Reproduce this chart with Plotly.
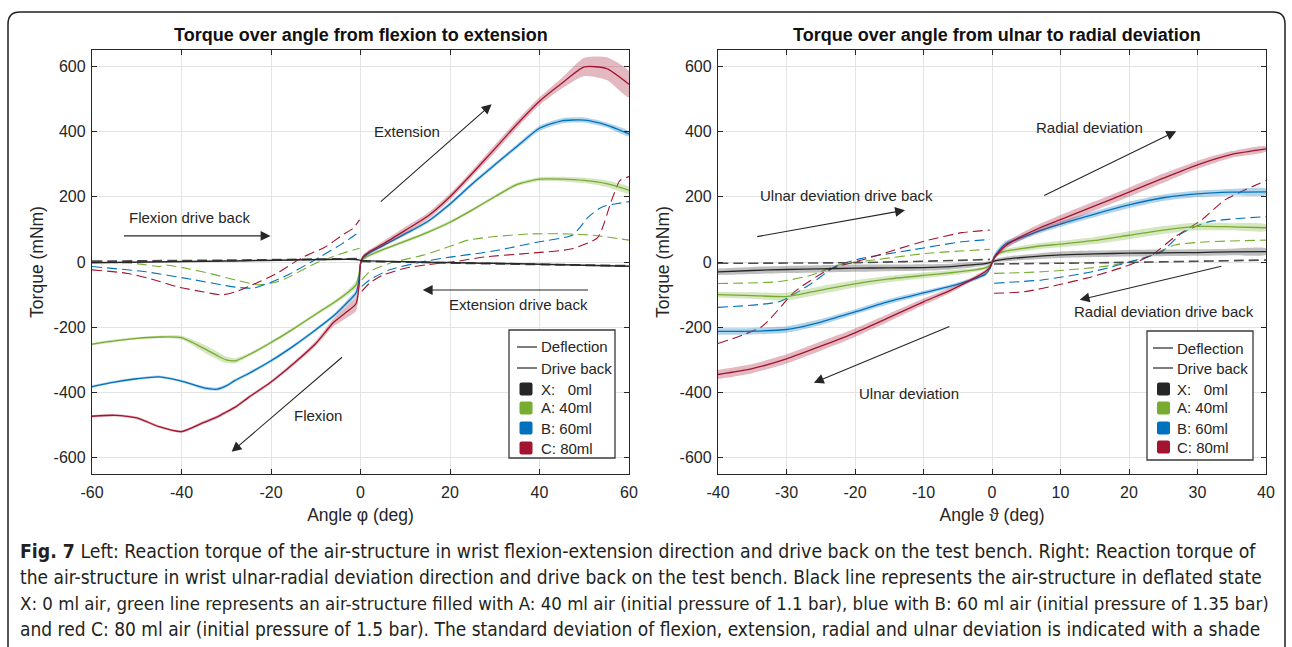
import plotly.graph_objects as go

W, H = 1292, 647

# ---------------- LEFT PANEL: flexion / extension ----------------
FE_ANGLE = [-60, -55, -50, -45, -40, -35, -32, -30, -28, -25, -20, -15, -10, -6, -3, -1, -0.3, 0,
            0.5, 2, 5, 10, 15, 20, 25, 30, 35, 40, 45, 50, 55, 60]
FE_A = [-252, -242, -234, -230, -232, -265, -287, -300, -303, -285, -247, -205, -160, -125, -95, -70, -35, -5,
        8, 20, 38, 64, 91, 122, 160, 200, 238, 254, 254, 250, 240, 220]
FE_B = [-382, -368, -358, -352, -365, -386, -390, -380, -363, -342, -303, -258, -208, -165, -125, -95, -50, -5,
        12, 28, 50, 86, 124, 178, 240, 298, 355, 410, 433, 435, 420, 393]
FE_C = [-473, -470, -478, -505, -520, -492, -475, -460, -445, -415, -368, -312, -250, -185, -152, -128, -70, -5,
        15, 32, 55, 97, 140, 200, 272, 347, 423, 493, 548, 598, 593, 545]
FE_A_SD = [4, 4, 4, 4, 6, 12, 12, 10, 8, 5, 5, 5, 5, 6, 8, 12, 10, 5,
           5, 5, 5, 5, 5, 5, 5, 5, 6, 6, 7, 8, 10, 10]
FE_B_SD = [4, 4, 4, 4, 4, 5, 5, 5, 5, 5, 5, 5, 5, 6, 8, 10, 10, 5,
           5, 5, 5, 5, 5, 6, 6, 6, 7, 8, 8, 8, 8, 8]
FE_C_SD = [4, 4, 4, 4, 4, 5, 5, 5, 5, 5, 5, 6, 8, 12, 18, 22, 20, 8,
           6, 6, 8, 10, 10, 10, 10, 12, 12, 12, 16, 28, 35, 40]
FE_X_ANGLE = [-60, -30, -1, 0, 30, 60]
FE_X = [-2, 3, 8, 5, -4, -13]

# drive back, flexion side
FLX_A_ANG = [-60, -50, -45, -43.5, -38, -33.7, -28, -22.6, -19, -16.6, -10, -4, -0.2]
FLX_A = [1, -5, -14, -9, -22, -35, -55, -70, -62, -50, -4, 27, 42]
FLX_B_ANG = [-60, -48, -37, -28, -24, -20, -16, -9, -4, -0.2]
FLX_B = [-14, -30, -55, -77, -80, -62, -38, 16, 57, 93]
FLX_C_ANG = [-60, -52, -46, -41, -35, -31, -28, -25, -19, -13, -8, -4, -1.7, -0.2]
FLX_C = [-24, -35, -55, -76, -92, -101, -92, -75, -37, 14, 45, 83, 103, 129]
FLX_X_ANG = [-60, -30, 0]
FLX_X = [2, 5, 10]
# drive back, extension side
EXT_A_ANG = [0.3, 2, 6.5, 14, 20, 24, 30, 38, 47, 52, 60]
EXT_A = [-55, -30, -4, 21, 48, 67, 78, 86, 86, 82, 67]
EXT_B_ANG = [0.3, 2, 6.5, 14, 20, 26.6, 31, 40, 47.4, 51, 54, 60]
EXT_B = [-75, -55, -24, 1, 15, 27, 37, 62, 83, 139, 169, 185]
EXT_C_ANG = [0.3, 2, 5, 10, 15, 21, 28, 38, 47, 53, 56, 58, 60]
EXT_C = [-90, -65, -40, -19, -8, 1, 16, 27, 40, 75, 185, 250, 262]
EXT_X_ANG = [0, 30, 60]
EXT_X = [2, -5, -12]

# ---------------- RIGHT PANEL: ulnar / radial ----------------
RU_ANGLE = [-40, -35, -30, -25, -20, -15, -10, -6, -3, -1, -0.3, 0, 0.3, 1, 2, 4, 7, 10, 15, 20, 25, 30, 35, 40]
RU_C = [-345, -327, -297, -258, -217, -170, -122, -86, -54, -30, -16, -3, 12, 30, 50, 75, 105, 130, 172, 214, 257, 298, 330, 347]
RU_B = [-213, -212, -207, -184, -153, -121, -95, -74, -55, -38, -20, -3, 15, 35, 55, 72, 96, 116, 147, 175, 197, 209, 214, 215]
RU_A = [-100, -103, -106, -86, -67, -52, -41, -33, -26, -18, -10, 0, 12, 26, 33, 40, 49, 55, 66, 82, 98, 109, 108, 105]
RU_X = [-30, -26, -23, -21, -19, -18, -17, -14, -9, -5, -2, 0, 3, 6, 9, 13, 18, 22, 25, 27, 28, 29, 31, 32]
RU_C_SD = [14, 14, 14, 14, 13, 12, 10, 8, 6, 6, 6, 6, 6, 8, 10, 10, 12, 14, 14, 14, 14, 12, 10, 8]
RU_B_SD = [10, 10, 10, 9, 8, 8, 7, 6, 6, 6, 6, 6, 8, 10, 10, 8, 8, 8, 9, 10, 10, 10, 10, 10]
RU_A_SD = [9, 10, 12, 12, 11, 10, 9, 8, 6, 5, 5, 5, 5, 6, 7, 8, 9, 10, 11, 12, 12, 12, 11, 10]
RU_X_SD = [10, 11, 11, 11, 11, 10, 10, 9, 8, 6, 5, 5, 5, 6, 7, 8, 9, 10, 10, 10, 10, 10, 10, 10]

# drive back, ulnar side
UL_A_ANG = [-40, -31, -26.3, -22.4, -16.6, -9.3, -0.3]
UL_A = [-66, -60, -40, -9, 8, 27, 39]
UL_B_ANG = [-40, -31, -26.3, -22.9, -19, -11.7, -4.4, -0.3]
UL_B = [-139, -121, -65, -14, 11, 37, 62, 69]
UL_C_ANG = [-40, -33.6, -28.8, -23.9, -19, -14.2, -9.3, -4.4, -0.3]
UL_C = [-250, -198, -91, -24, 6, 37, 67, 90, 98]
UL_X_ANG = [-40, -20, -5, -0.3]
UL_X = [-4, -2, 5, 8]
# drive back, radial side
RA_A_ANG = [0.3, 7.3, 17, 22.8, 26.7, 31.6, 40]
RA_A = [-35, -30, -12, 16, 52, 62, 67]
RA_B_ANG = [0.3, 7.3, 14.6, 21.9, 24.8, 27.7, 31.6, 40]
RA_B = [-65, -55, -30, 11, 32, 88, 123, 139]
RA_C_ANG = [0.3, 4.8, 9.7, 14.6, 19.4, 23.3, 26.7, 30.6, 34, 40]
RA_C = [-96, -91, -70, -45, -14, 21, 77, 129, 190, 250]
RA_X_ANG = [0.3, 17, 40]
RA_X = [-6, -2, 6]

FE_XTICKS = [-60, -40, -20, 0, 20, 40, 60]
FE_XTICKTEXT = ["-60", "-40", "-20", "0", "20", "40", "60"]
RU_XTICKS = [-40, -30, -20, -10, 0, 10, 20, 30, 40]
RU_XTICKTEXT = ["-40", "-30", "-20", "-10", "0", "10", "20", "30", "40"]
YTICKS = [-600, -400, -200, 0, 200, 400, 600]
YTICKTEXT = ["-600", "-400", "-200", "0", "200", "400", "600"]

LEGEND_LINES = ["Deflection", "Drive back"]
LEGEND_KEYS = ["X", "A", "B", "C"]
LEGEND_NAMES = ["X:\u00a0\u00a0\u00a00ml", "A: 40ml", "B: 60ml", "C: 80ml"]

COL = {"X": "#262626", "A": "#77AC30", "B": "#0072BD", "C": "#A2142F"}
FILL = {"X": "rgba(70,70,70,0.35)", "A": "rgba(119,172,48,0.3)",
        "B": "rgba(0,114,189,0.3)", "C": "rgba(162,20,47,0.3)"}
DASHCOL = {"X": "#4d4d4d", "A": "#77AC30", "B": "#0072BD", "C": "#A2142F"}

fig = go.Figure()


def band(x, y, sd, key, xa, ya):
    up = [a + b for a, b in zip(y, sd)]
    lo = [a - b for a, b in zip(y, sd)]
    fig.add_trace(go.Scatter(x=list(x) + list(x)[::-1], y=up + lo[::-1], fill="toself",
                             fillcolor=FILL[key], line=dict(width=0, shape="spline", smoothing=0.6),
                             mode="lines", hoverinfo="skip", showlegend=False, xaxis=xa, yaxis=ya))


def line(x, y, key, xa, ya, dash=None, width=1.3):
    fig.add_trace(go.Scatter(x=x, y=y, mode="lines",
                             line=dict(color=DASHCOL[key] if dash else COL[key], width=width,
                                       dash=dash or "solid", shape="spline", smoothing=0.6),
                             showlegend=False, xaxis=xa, yaxis=ya))


DASH = "10px,5px"

# left panel
for key, ax, ay in [("A", FLX_A_ANG, FLX_A), ("B", FLX_B_ANG, FLX_B), ("C", FLX_C_ANG, FLX_C),
                    ("A", EXT_A_ANG, EXT_A), ("B", EXT_B_ANG, EXT_B), ("C", EXT_C_ANG, EXT_C)]:
    line(ax, ay, key, "x", "y", dash=DASH, width=1.1)
line(FLX_X_ANG, FLX_X, "X", "x", "y", dash=DASH, width=2)
line(EXT_X_ANG, EXT_X, "X", "x", "y", dash=DASH, width=2)
for key, yv, sd in [("A", FE_A, FE_A_SD), ("B", FE_B, FE_B_SD), ("C", FE_C, FE_C_SD)]:
    band(FE_ANGLE, yv, sd, key, "x", "y")
    line(FE_ANGLE, yv, key, "x", "y")
line(FE_X_ANGLE, FE_X, "X", "x", "y", width=1.5)

# right panel
for key, ax, ay in [("A", UL_A_ANG, UL_A), ("B", UL_B_ANG, UL_B), ("C", UL_C_ANG, UL_C),
                    ("A", RA_A_ANG, RA_A), ("B", RA_B_ANG, RA_B), ("C", RA_C_ANG, RA_C)]:
    line(ax, ay, key, "x2", "y2", dash=DASH, width=1.1)
line(UL_X_ANG, UL_X, "X", "x2", "y2", dash=DASH, width=1.6)
line(RA_X_ANG, RA_X, "X", "x2", "y2", dash=DASH, width=1.6)
for key, yv, sd in [("X", RU_X, RU_X_SD), ("A", RU_A, RU_A_SD), ("B", RU_B, RU_B_SD), ("C", RU_C, RU_C_SD)]:
    band(RU_ANGLE, yv, sd, key, "x2", "y2")
    line(RU_ANGLE, yv, key, "x2", "y2")

FONT = "Liberation Sans, Arial, Helvetica, sans-serif"
TXT = "#262626"

axis_common = dict(showline=True, linecolor="#262626", linewidth=1.3, mirror="ticks", ticks="inside",
                   ticklen=5, tickcolor="#262626", showgrid=True, gridcolor="#e3e3e3", gridwidth=1,
                   zeroline=False, automargin=False, tickfont=dict(family=FONT, size=16, color=TXT))

fig.update_layout(
    width=W, height=H, margin=dict(l=0, r=0, t=0, b=0, autoexpand=False),
    paper_bgcolor="white", plot_bgcolor="white",
    font=dict(family=FONT, color=TXT), showlegend=False,
    xaxis=dict(domain=[92 / W, 629 / W], range=[-60, 60], tickvals=FE_XTICKS, ticktext=FE_XTICKTEXT,
               anchor="y", ticklabelstandoff=4,
               title=dict(text="Angle \u03c6 (deg)", font=dict(size=17.5, family=FONT, color=TXT), standoff=8),
               **axis_common),
    yaxis=dict(domain=[1 - 474 / H, 1 - 50 / H], range=[-650, 650], tickvals=YTICKS, ticktext=YTICKTEXT,
               anchor="x", ticklabelstandoff=2,
               title=dict(text="Torque (mNm)", font=dict(size=17.5, family=FONT, color=TXT), standoff=5),
               **axis_common),
    xaxis2=dict(domain=[718 / W, 1266 / W], range=[-40, 40], tickvals=RU_XTICKS, ticktext=RU_XTICKTEXT,
                anchor="y2", ticklabelstandoff=4,
                title=dict(text="Angle \u03d1 (deg)", font=dict(size=17.5, family=FONT, color=TXT), standoff=8),
                **axis_common),
    yaxis2=dict(domain=[1 - 474 / H, 1 - 50 / H], range=[-650, 650], tickvals=YTICKS, ticktext=YTICKTEXT,
                anchor="x2", ticklabelstandoff=2,
                title=dict(text="Torque (mNm)", font=dict(size=17.5, family=FONT, color=TXT), standoff=5),
                **axis_common),
)

# titles
fig.add_annotation(text="<b>Torque over angle from flexion to extension</b>", x=361 / W, y=1 - 35 / H,
                   xref="paper", yref="paper", showarrow=False, font=dict(size=18, family=FONT, color="#111"),
                   xanchor="center", yanchor="middle")
fig.add_annotation(text="<b>Torque over angle from ulnar to radial deviation</b>", x=997 / W, y=1 - 35 / H,
                   xref="paper", yref="paper", showarrow=False, font=dict(size=18, family=FONT, color="#111"),
                   xanchor="center", yanchor="middle")

# arrows + labels: (text, text_x, text_y, tail_x, tail_y, head_x, head_y, axis)
ARROWS = [
    ("Extension", 10.5, 401, 4.2, 181, 29.3, 484, "1"),
    ("Flexion drive back", -38.2, 135, -53.2, 80, -20.1, 80, "1"),
    ("Extension drive back", 35.3, -129, 51.2, -86, 13.9, -86, "1"),
    ("Flexion", -9.6, -471, -3.8, -288, -28.8, -582, "1"),
    ("Radial deviation", 14.3, 413, 7.4, 202, 26.9, 401, "2"),
    ("Ulnar deviation drive back", -21.3, 205, -34.5, 77, -12.7, 159, "2"),
    ("Radial deviation drive back", 25.1, -153, 33.7, -12, 12.8, -116, "2"),
    ("Ulnar deviation", -12.1, -404, -6.0, -196, -26.0, -370, "2"),
]
for txt, tx, ty, x0, y0, x1, y1, a in ARROWS:
    xr = "x" if a == "1" else "x2"
    yr = "y" if a == "1" else "y2"
    fig.add_annotation(text="", x=x1, y=y1, ax=x0, ay=y0, xref=xr, yref=yr, axref=xr, ayref=yr,
                       showarrow=True, arrowhead=2, arrowsize=1.8, arrowwidth=1.1, arrowcolor="#262626")
    fig.add_annotation(text=txt, x=tx, y=ty, xref=xr, yref=yr, showarrow=False,
                       font=dict(size=15, family=FONT, color="#262626"), xanchor="center", yanchor="middle")


# ---------------- legends (drawn in paper space) ----------------
def pfx(x):
    return x / W


def pfy(y):
    return 1 - y / H


def draw_legend(box, rows_y, line_x, sq_x, text_x):
    x0, y0, x1, y1 = box
    fig.add_shape(type="rect", xref="paper", yref="paper", x0=pfx(x0), x1=pfx(x1), y0=pfy(y1), y1=pfy(y0),
                  fillcolor="white", line=dict(color="#3a3a3a", width=1.3), layer="above")
    for i, nm in enumerate(LEGEND_LINES):
        yy = rows_y[i]
        fig.add_shape(type="line", xref="paper", yref="paper", x0=pfx(line_x[0]), x1=pfx(line_x[1]),
                      y0=pfy(yy), y1=pfy(yy), line=dict(color="#262626", width=1.2), layer="above")
        fig.add_annotation(text=nm, x=pfx(text_x), y=pfy(yy), xref="paper", yref="paper", showarrow=False,
                           xanchor="left", yanchor="middle", font=dict(size=15, family=FONT, color=TXT))
    for j, (k, nm) in enumerate(zip(LEGEND_KEYS, LEGEND_NAMES)):
        yy = rows_y[j + 2]
        s = 6.5
        cx = (sq_x[0] + sq_x[1]) / 2
        r = 2
        path = (f"M {pfx(cx - s + r)},{pfy(yy - s)} L {pfx(cx + s - r)},{pfy(yy - s)} "
                f"Q {pfx(cx + s)},{pfy(yy - s)} {pfx(cx + s)},{pfy(yy - s + r)} "
                f"L {pfx(cx + s)},{pfy(yy + s - r)} Q {pfx(cx + s)},{pfy(yy + s)} {pfx(cx + s - r)},{pfy(yy + s)} "
                f"L {pfx(cx - s + r)},{pfy(yy + s)} Q {pfx(cx - s)},{pfy(yy + s)} {pfx(cx - s)},{pfy(yy + s - r)} "
                f"L {pfx(cx - s)},{pfy(yy - s + r)} Q {pfx(cx - s)},{pfy(yy - s)} {pfx(cx - s + r)},{pfy(yy - s)} Z")
        fig.add_shape(type="path", path=path, xref="paper", yref="paper", fillcolor=COL[k],
                      line=dict(width=0), layer="above")
        fig.add_annotation(text=nm, x=pfx(text_x), y=pfy(yy), xref="paper", yref="paper", showarrow=False,
                           xanchor="left", yanchor="middle", font=dict(size=15, family=FONT, color=TXT))


draw_legend((509, 330, 615, 458), [347, 368, 389, 408, 428, 448], (517, 537), (520, 532), 539)
draw_legend((1147, 331, 1253, 460), [348, 368, 389, 408, 428, 447], (1153, 1173), (1157, 1170), 1175)

# caption
CAPTION = [
    "<b>Fig. 7</b> Left: Reaction torque of the air-structure in wrist flexion-extension direction and drive back on the test bench. Right: Reaction torque of",
    "the air-structure in wrist ulnar-radial deviation direction and drive back on the test bench. Black line represents the air-structure in deflated state",
    "X: 0 ml air, green line represents an air-structure filled with A: 40 ml air (initial pressure of 1.1 bar), blue with B: 60 ml air (initial pressure of 1.35 bar)",
    "and red C: 80 ml air (initial pressure of 1.5 bar). The standard deviation of flexion, extension, radial and ulnar deviation is indicated with a shade",
]
CAP_Y = [551, 577, 603, 629]
CAP_SIZE = [19.3, 19.0, 18.5, 19.0]
for t, yy, fs in zip(CAPTION, CAP_Y, CAP_SIZE):
    fig.add_annotation(text=t, x=18 / W, y=1 - yy / H, xref="paper", yref="paper", showarrow=False,
                       xanchor="left", yanchor="middle",
                       font=dict(size=fs, family="DejaVu Sans Condensed, Liberation Sans Narrow, sans-serif",
                                 color="#231f20"))

# rounded frame
frame = (f"M {pfx(8)},{pfy(700)} L {pfx(8)},{pfy(24)} Q {pfx(8)},{pfy(12)} {pfx(20)},{pfy(12)} "
         f"L {pfx(1273)},{pfy(12)} Q {pfx(1285)},{pfy(12)} {pfx(1285)},{pfy(24)} L {pfx(1285)},{pfy(700)}")
fig.add_shape(type="path", path=frame, xref="paper", yref="paper", line=dict(color="#231f20", width=1.5))

fig.write_html("out.html")
